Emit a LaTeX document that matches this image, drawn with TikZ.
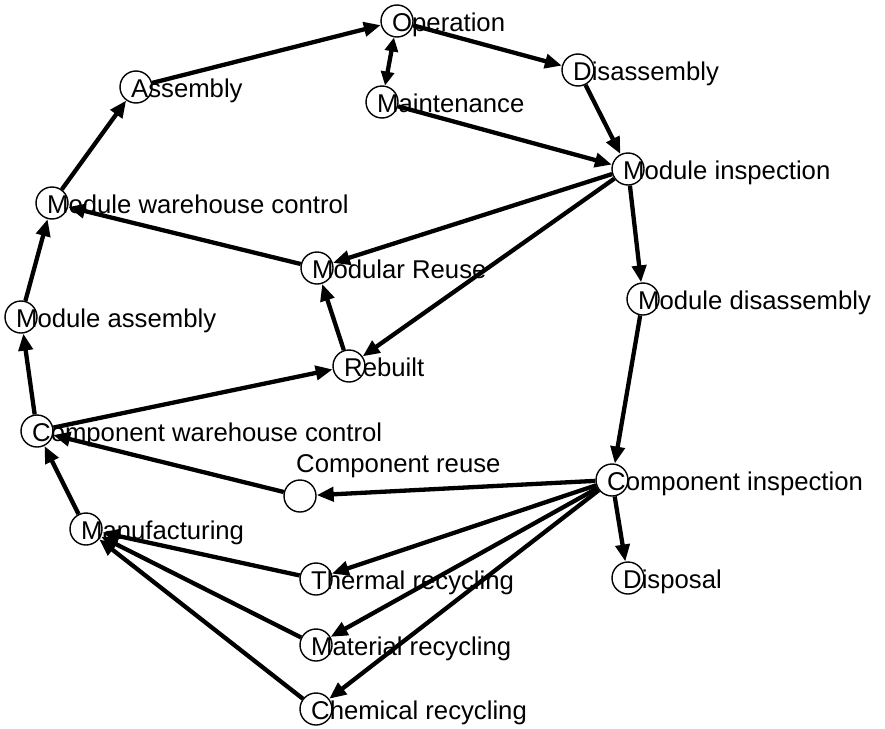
\documentclass[tikz,border=0pt]{standalone}
\usepackage{fontspec}
\setmainfont{Liberation Sans}
\usetikzlibrary{arrows.meta}
\begin{document}
\begin{tikzpicture}[x=1pt,y=-1pt,
  stage/.style={circle,draw=black,fill=white,line width=1.4pt,minimum size=32pt,inner sep=0pt},
  stagetext/.style={anchor=base west,inner sep=0pt,font=\fontsize{25.7}{30}\selectfont},
  flow/.style={line width=4.3pt,-{Triangle[length=17pt,width=14pt]}},
  bothflow/.style={line width=4.3pt,{Triangle[length=14pt,width=13pt]}-{Triangle[length=14pt,width=13pt]}}]
\useasboundingbox (0,0) rectangle (885,728);

% stage circles
\node[stage] (op)  at (397,21)  {};
\node[stage] (dis) at (578,70)  {};
\node[stage] (mnt) at (382,102) {};
\node[stage] (asm) at (136,87)  {};
\node[stage] (mi)  at (628,169) {};
\node[stage] (mwc) at (52,203)  {};
\node[stage] (mr)  at (317,268) {};
\node[stage] (ma)  at (21,317)  {};
\node[stage] (md)  at (643,299) {};
\node[stage] (rb)  at (349,366) {};
\node[stage] (cwc) at (37,431)  {};
\node[stage] (cr)  at (300,496) {};
\node[stage] (ci)  at (612,480) {};
\node[stage] (mf)  at (86,529)  {};
\node[stage] (tr)  at (316,579) {};
\node[stage] (dp)  at (628,578) {};
\node[stage] (mat) at (316,645) {};
\node[stage] (chr) at (316,709) {};

% stage names
\node[stagetext] (opT)  at (392,31.5)  {Operation};
\node[stagetext] (disT) at (573,80.5)  {Disassembly};
\node[stagetext] (mntT) at (377,112.5) {Maintenance};
\node[stagetext] (asmT) at (131,97.5)  {Assembly};
\node[stagetext] (miT)  at (623,179.5) {Module inspection};
\node[stagetext] (mwcT) at (47,213.5)  {Module warehouse control};
\node[stagetext] (mrT)  at (312,278.5) {Modular Reuse};
\node[stagetext] (maT)  at (16,327.5)  {Module assembly};
\node[stagetext] (mdT)  at (638,309.5) {Module disassembly};
\node[stagetext] (rbT)  at (344,376.5) {Rebuilt};
\node[stagetext] (cwcT) at (32,441.5)  {Component warehouse control};
\node[stagetext] (crT)  at (296,472.5) {Component reuse};
\node[stagetext] (ciT)  at (607,490.5) {Component inspection};
\node[stagetext] (mfT)  at (81,539.5)  {Manufacturing};
\node[stagetext] (trT)  at (311,589.5) {Thermal recycling};
\node[stagetext] (dpT)  at (623,588.5) {Disposal};
\node[stagetext] (matT) at (311,655.5) {Material recycling};
\node[stagetext] (chrT) at (311,719.5) {Chemical recycling};

% flows between stages
\draw[flow] (asm) -- (op);
\draw[bothflow] (op) -- (mnt);
\draw[flow] (op) -- (dis);
\draw[flow] (mnt) -- (mi);
\draw[flow] (dis) -- (mi);
\draw[flow] (mi) -- (mr);
\draw[flow] (mi) -- (rb);
\draw[flow] (mi) -- (md);
\draw[flow] (mr) -- (mwc);
\draw[flow] (rb) -- (mr);
\draw[flow] (mwc) -- (asm);
\draw[flow] (ma) -- (mwc);
\draw[flow] (cwc) -- (ma);
\draw[flow] (cwc) -- (rb);
\draw[flow] (md) -- (ci);
\draw[flow] (ci) -- (cr);
\draw[flow] (cr) -- (cwc);
\draw[flow] (mf) -- (cwc);
\draw[flow] (ci) -- (tr);
\draw[flow] (ci) -- (mat);
\draw[flow] (ci) -- (chr);
\draw[flow] (ci) -- (dp);
\draw[flow] (tr) -- (mf);
\draw[flow] (mat) -- (mf);
\draw[flow] (chr) -- (mf);
\end{tikzpicture}
\end{document}
